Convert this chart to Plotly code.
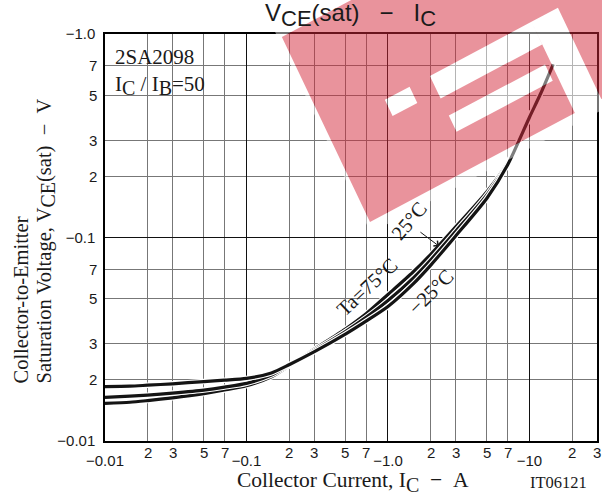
import math
import plotly.graph_objects as go

# ---------------- data ----------------
ic_a = [0.01, 0.015, 0.02, 0.03, 0.05, 0.07, 0.1, 0.15, 0.2, 0.3, 0.5, 0.7,
        1.0, 1.5, 2.0, 3.0, 5.0, 7.0, 10.0, 12.0, 14.7]
vce_ta_m25 = [0.0185, 0.0186, 0.0188, 0.0191, 0.0196, 0.0199, 0.0203, 0.0216, 0.0237,
              0.0274, 0.0335, 0.0388, 0.0458, 0.0590, 0.0730, 0.1015, 0.156, 0.227,
              0.39, 0.51, 0.71]
vce_ta_25 = [0.0164, 0.0166, 0.0168, 0.0172, 0.0178, 0.0184, 0.0192, 0.0211, 0.0236,
             0.0278, 0.0345, 0.0405, 0.0490, 0.0630, 0.0775, 0.107, 0.162, 0.230,
             0.39, 0.51, 0.71]
vce_ta_75 = [0.0153, 0.0155, 0.0158, 0.0163, 0.0171, 0.0178, 0.0187, 0.0207, 0.0234,
             0.0282, 0.0355, 0.0422, 0.0525, 0.0675, 0.0825, 0.1125, 0.168, 0.233,
             0.39, 0.51, 0.71]

x_decade_vals = [0.01, 0.1, 1.0, 10.0]
x_decade_text = ["\u22120.01", "\u22120.1", "\u22121.0", "\u221210"]
x_minor_vals = [0.02, 0.03, 0.05, 0.07, 0.2, 0.3, 0.5, 0.7,
                2, 3, 5, 7, 20, 30]
x_minor_text = ["2", "3", "5", "7", "2", "3", "5", "7",
                "2", "3", "5", "7", "2", "3"]
y_decade_vals = [0.01, 0.1, 1.0]
y_decade_text = ["\u22120.01", "\u22120.1", "\u22121.0"]
y_minor_vals = [0.02, 0.03, 0.05, 0.07, 0.2, 0.3, 0.5, 0.7]
y_minor_text = ["2", "3", "5", "7", "2", "3", "5", "7"]

curve_labels = ["Ta=75\u00b0C", "25\u00b0C", "\u221225\u00b0C"]

# ---------------- layout helpers (pixel -> paper) ----------------
L, R, T, B = 105, 597, 34, 441
W, H = 602, 499


def px2x(px):
    return (px - L) / (R - L)


def py2y(py):
    return (B - py) / (B - T)


SERIF = "Liberation Serif"
SANS = "Liberation Sans"
INK = "#1a1a1a"

fig = go.Figure()

for vals in [vce_ta_75, vce_ta_25, vce_ta_m25]:
    fig.add_trace(go.Scatter(x=ic_a, y=vals, mode="lines",
                             line=dict(color="white", width=5.5, shape="spline", smoothing=0.7),
                             hoverinfo="skip", showlegend=False))
    fig.add_trace(go.Scatter(x=ic_a, y=vals, mode="lines",
                             line=dict(color="#141414", width=3.2, shape="spline", smoothing=0.7),
                             hoverinfo="skip", showlegend=False))

axis_common = dict(type="log", showline=True, mirror=True, linecolor="black", linewidth=1.5,
                   showgrid=True, gridcolor="#111111", gridwidth=1.3, zeroline=False,
                   ticks="", automargin=False,
                   tickfont=dict(family=SANS, size=15, color=INK))

fig.update_xaxes(range=[math.log10(0.01), math.log10(30)], tickvals=x_decade_vals,
                 ticktext=x_decade_text, ticklabelstandoff=5,
                 minor=dict(tickvals=x_minor_vals, showgrid=True, gridcolor="#777777",
                            gridwidth=1, ticks=""),
                 **axis_common)
fig.update_yaxes(range=[-2, 0], tickvals=y_decade_vals, ticktext=y_decade_text,
                 ticklabelstandoff=5,
                 minor=dict(tickvals=y_minor_vals, showgrid=True, gridcolor="#777777",
                            gridwidth=1, ticks=""),
                 **axis_common)

ann = []
# minor tick labels
for v, t in zip(x_minor_vals, x_minor_text):
    ann.append(dict(x=math.log10(v), y=py2y(452), xref="x", yref="paper", text=t,
                    showarrow=False, xanchor="center", yanchor="middle",
                    font=dict(family=SANS, size=15, color=INK)))
for v, t in zip(y_minor_vals, y_minor_text):
    ann.append(dict(x=px2x(99), y=math.log10(v), xref="paper", yref="y", text=t,
                    showarrow=False, xanchor="right", yanchor="middle",
                    font=dict(family=SANS, size=15, color=INK)))

# titles
sub_big = "<sub><span style='font-size:22px'>{}</span></sub>"
title_txt = ("V" + sub_big.format("CE") + "(sat)\u00a0\u00a0\u00a0\u2212\u00a0\u00a0\u00a0I"
             + sub_big.format("C"))
ann.append(dict(x=px2x(350), y=py2y(-3), xref="paper", yref="paper", text=title_txt,
                showarrow=False, xanchor="center", yanchor="top",
                font=dict(family=SANS, size=24, color=INK)))
ann.append(dict(x=px2x(362), y=py2y(493), xref="paper", yref="paper", text=title_txt,
                showarrow=False, xanchor="center", yanchor="top",
                font=dict(family=SANS, size=24, color=INK)))
sub_ser = "<sub><span style='font-size:20px'>{}</span></sub>"
ann.append(dict(x=px2x(353), y=py2y(466), xref="paper", yref="paper",
                text="Collector Current, I" + sub_ser.format("C") + "\u00a0\u00a0\u2212\u00a0\u00a0A",
                showarrow=False, xanchor="center", yanchor="top",
                font=dict(family=SERIF, size=21.5, color=INK)))
ann.append(dict(x=px2x(558), y=py2y(471), xref="paper", yref="paper", text="IT06121",
                showarrow=False, xanchor="center", yanchor="top",
                font=dict(family=SERIF, size=16.5, color=INK)))
ann.append(dict(x=px2x(20), y=py2y(386), xref="paper", yref="paper",
                text="Collector-to-Emitter", textangle=-90,
                showarrow=False, xanchor="center", yanchor="bottom",
                font=dict(family=SERIF, size=20.5, color=INK)))
ann.append(dict(x=px2x(45), y=py2y(386), xref="paper", yref="paper",
                text="Saturation Voltage, V" + sub_ser.format("CE") + "(sat)\u00a0\u00a0\u2212\u00a0\u00a0V",
                textangle=-90, showarrow=False, xanchor="center", yanchor="bottom",
                font=dict(family=SERIF, size=20.5, color=INK)))

# inset text
ann.append(dict(x=px2x(113), y=py2y(43), xref="paper", yref="paper", text="2SA2098",
                showarrow=False, xanchor="left", yanchor="top",
                font=dict(family=SERIF, size=21, color=INK)))
ann.append(dict(x=px2x(113), y=py2y(70), xref="paper", yref="paper",
                text="I" + sub_ser.format("C") + " / I" + sub_ser.format("B") + "=50",
                showarrow=False, xanchor="left", yanchor="top",
                font=dict(family=SERIF, size=21, color=INK)))

# curve labels
lab_pos = [(367, 287, -43), (409, 221, -50), (431, 292, -45)]
for t, (px, py, ang) in zip(curve_labels, lab_pos):
    ann.append(dict(x=px2x(px), y=py2y(py), xref="paper", yref="paper", text=t,
                    textangle=ang, showarrow=False, xanchor="center", yanchor="middle",
                    font=dict(family=SERIF, size=20.5, color=INK)))
# arrow from 25C label to its curve
ann.append(dict(x=math.log10(2.29), y=math.log10(0.0908), xref="x", yref="y", text="",
                showarrow=True, ax=-20, ay=-15, arrowhead=4, arrowsize=1.3,
                arrowwidth=1, arrowcolor=INK))

# ---------------- shapes ----------------
shapes = []
# white box behind inset text
shapes.append(dict(type="rect", xref="paper", yref="paper", x0=px2x(106), x1=px2x(217),
                   y0=py2y(97), y1=py2y(35), fillcolor="white", line=dict(width=0),
                   layer="between"))

# watermark (semi-transparent tilted logo)
th = math.radians(28)
dvec = (math.cos(th), -math.sin(th))
vvec = (-0.4299, -0.9029)
A0 = (370, 222)


def loc(s, h):
    px = A0[0] + s * dvec[0] + h * vvec[0]
    py = A0[1] + s * dvec[1] + h * vvec[1]
    return px2x(px), py2y(py)


def poly(pts):
    return "M" + "L".join("{:.4f},{:.4f}".format(*loc(s, h)) for s, h in pts) + "Z"


def rect(s0, s1, h0, h1):
    return poly([(s0, h0), (s1, h0), (s1, h1), (s0, h1)])


outer = poly([(0, 0), (232, 0), (232, 101), (262, 101), (262, 0), (440, 0),
              (440, 205), (0, 205)])
holes = rect(66, 94, 83, 101) + rect(117, 226, 39, 57) + rect(117, 232, 76, 101)
halo = rect(-4, 450, -10, 215)
shapes.append(dict(type="path", xref="paper", yref="paper", path=halo + outer + holes,
                   fillrule="evenodd", fillcolor="rgba(255,255,255,0.45)",
                   line=dict(width=0), layer="above"))
shapes.append(dict(type="path", xref="paper", yref="paper", path=outer + holes,
                   fillrule="evenodd", fillcolor="rgba(212,40,58,0.5)",
                   line=dict(width=0), layer="above"))

fig.update_layout(width=W, height=H, margin=dict(l=L, r=W - R, t=T, b=H - B, autoexpand=False),
                  paper_bgcolor="white", plot_bgcolor="white", hovermode=False,
                  annotations=ann, shapes=shapes, showlegend=False)

fig.write_html("out.html", config={"displayModeBar": False},
               post_script="document.body.style.margin='0';document.body.style.overflow='hidden';")
